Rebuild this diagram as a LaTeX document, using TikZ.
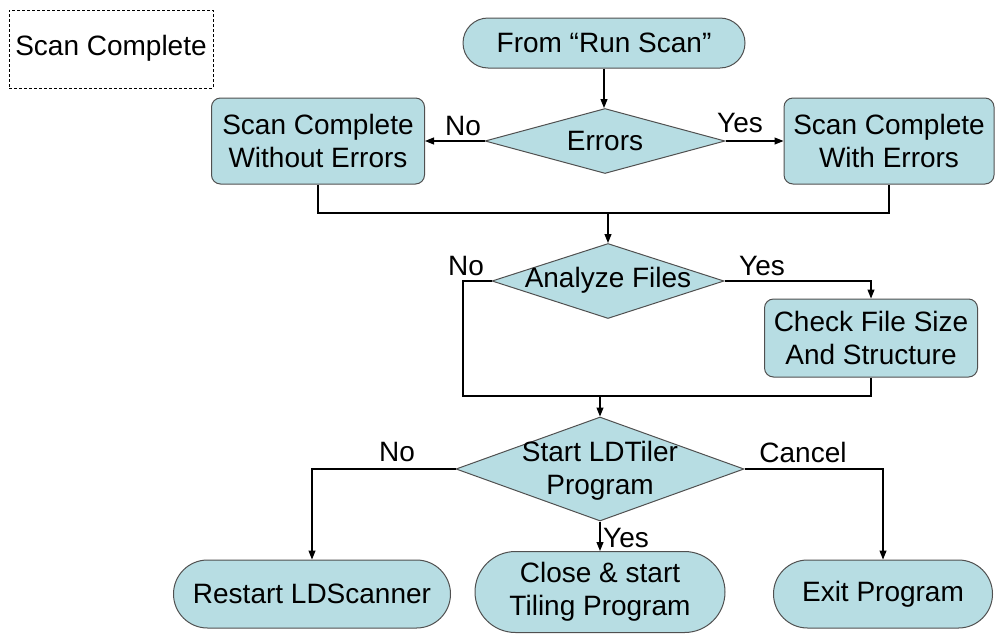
\documentclass[tikz,border=0pt]{standalone}
\usepackage{fontspec}
\setmainfont{Liberation Sans}
\usetikzlibrary{shapes.geometric,shapes.misc,arrows.meta}
\definecolor{boxfill}{RGB}{183,221,227}
\definecolor{boxline}{RGB}{80,80,80}
\tikzset{
  base/.style={draw=boxline, line width=1pt, fill=boxfill, inner sep=0pt,
    font=\fontsize{28}{33}\selectfont, align=center},
  procbox/.style={base, rectangle, rounded corners=9pt},
  termbox/.style={base, rounded rectangle},
  decbox/.style={base, diamond},
  txt/.style={font=\fontsize{28}{33}\selectfont, align=center, inner sep=0pt},
  flow/.style={line width=1.1pt, -{Triangle[length=9pt,width=7pt]}},
  wire/.style={line width=1.1pt},
}
\begin{document}
\begin{tikzpicture}[x=1pt,y=-1pt]
  \useasboundingbox (0,0) rectangle (995,635);

  % caption box
  \node[draw, dashed, line width=0.8pt, dash pattern=on 3pt off 2pt,
        minimum width=204pt, minimum height=78pt, inner sep=0pt]
        (caption) at (111,49) {};
  \node[txt] (captiontext) at (111,48) {Scan Complete};

  % terminators
  \node[termbox, minimum width=282pt, minimum height=50pt] (fromrun) at (604,43) {From “Run Scan”};
  \node[termbox, minimum width=277pt, minimum height=68pt] (restart) at (312,594) {Restart LDScanner};
  \node[termbox, minimum width=250pt, minimum height=81pt] (close) at (600,592) {Close \& start\\Tiling Program};
  \node[termbox, minimum width=219pt, minimum height=68pt] (exit) at (883,594) {Exit Program};

  % process boxes
  \node[procbox, minimum width=213pt, minimum height=86pt] (without) at (318,141) {Scan Complete\\Without Errors};
  \node[procbox, minimum width=210pt, minimum height=86pt] (witherr) at (889,141) {Scan Complete\\With Errors};
  \node[procbox, minimum width=213pt, minimum height=78pt] (check) at (871,338) {Check File Size\\And Structure};

  % decisions (shape first, text on top)
  \node[decbox, minimum width=240pt, minimum height=65pt] (errors) at (605,141) {};
  \node[txt] (errorstext) at (errors) {Errors};
  \node[decbox, minimum width=232pt, minimum height=75pt] (analyze) at (608,281) {};
  \node[txt] (analyzetext) at (608,280) {Analyze Files};
  \node[decbox, minimum width=288pt, minimum height=104pt] (start) at (600,469) {};
  \node[txt] (starttext) at (600,471) {Start LDTiler\\Program};

  % junction points
  \coordinate (j1) at (608,213);
  \coordinate (j2) at (600,396);
  \coordinate (nobend) at (463,281);

  % connectors
  \draw[flow] (fromrun.south) -- (fromrun.south |- errors.north);
  \draw[flow] (errors.west) -- (errors.west -| without.east);
  \draw[flow] (errors.east) -- (errors.east -| witherr.west);
  \draw[wire] (without.south) -- (without.south |- j1) -- (witherr.south |- j1) -- (witherr.south);
  \draw[flow] (j1) -- (analyze.north);
  \draw[flow] (analyze.east) -| (check.north);
  \draw[wire] (analyze.west) -- (nobend) -- (nobend |- j2) -- (j2);
  \draw[wire] (check.south) -- (check.south |- j2) -- (j2);
  \draw[flow] (j2) -- (start.north);
  \draw[flow] (start.west) -| (restart.north);
  \draw[flow] (start.east) -| (exit.north);
  \draw[flow] (start.south) -- (close.north);

  % branch labels
  \node[txt] (lno1) at (463,126) {No};
  \node[txt] (lyes1) at (740,123) {Yes};
  \node[txt] (lno2) at (466,266) {No};
  \node[txt] (lyes2) at (762,266) {Yes};
  \node[txt] (lno3) at (397,452) {No};
  \node[txt] (lcancel) at (803,452) {Cancel};
  \node[txt] (lyes3) at (626,538) {Yes};
\end{tikzpicture}
\end{document}
